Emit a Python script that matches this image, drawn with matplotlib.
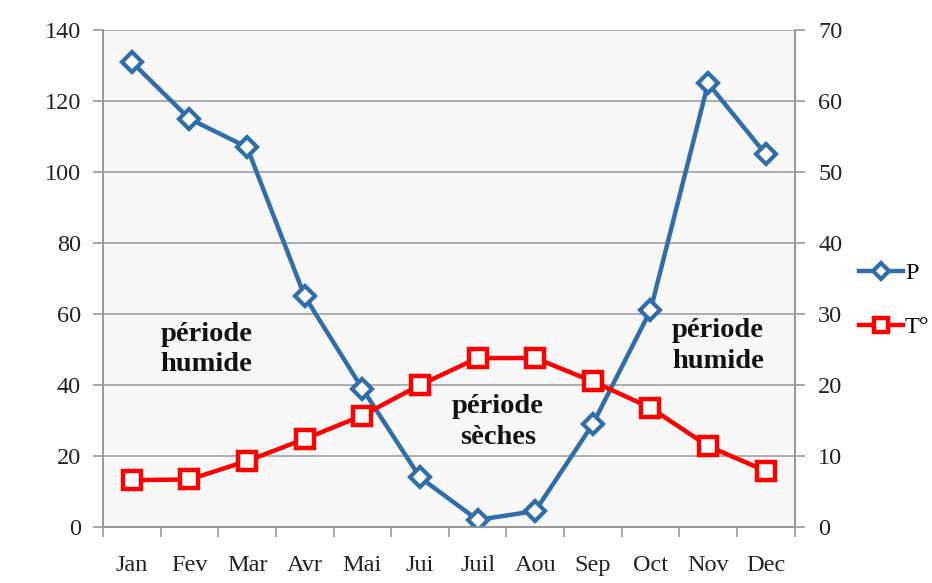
import numpy as np
import matplotlib.pyplot as plt
from matplotlib.ticker import FixedLocator

months = ["Jan", "Fev", "Mar", "Avr", "Mai", "Jui", "Juil", "Aou", "Sep", "Oct", "Nov", "Dec"]
precip = [131, 115, 107, 65, 39, 14, 2, 4.5, 29, 61, 125, 105]
temp = [6.6, 6.7, 9.3, 12.4, 15.7, 20, 23.8, 23.8, 20.5, 16.8, 11.4, 7.9]

plt.rcParams["font.family"] = ["Liberation Serif", "DejaVu Serif"]

fig = plt.figure(figsize=(9.32, 5.83), dpi=100)
fig.patch.set_facecolor("white")
ax = fig.add_axes([0.1105, 0.096, 0.742, 0.8525])
ax2 = ax.twinx()

x = np.arange(len(months))
blue = "#2f6eaa"
red = "#ff0000"

ax.set_facecolor("#f8f8f8")
ax.plot(x, precip, color=blue, lw=3.2, marker="D", ms=10, mfc="white",
        mec=blue, mew=3, label="P", zorder=3)
ax2.plot(x, temp, color=red, lw=3.2, marker="s", ms=13, mfc="white",
         mec=red, mew=3.2, label="T°", zorder=3)

ax.set_xlim(-0.5, 11.5)
ax.set_ylim(0, 140)
ax2.set_ylim(0, 70)
ax.set_yticks(range(0, 141, 20))
ax2.set_yticks(range(0, 71, 10))
ax.set_xticks(x)
ax.set_xticklabels(months)
ax.xaxis.set_minor_locator(FixedLocator(np.arange(-0.5, 12, 1)))
ax.tick_params(axis="x", which="major", length=0, pad=20, labelsize=17.5, labelcolor="#222222")
ax.tick_params(axis="x", which="minor", length=7, width=1.2, color="#999999", direction="out")
ax.tick_params(axis="y", length=7, width=1.2, color="#999999", labelsize=17.5,
               labelcolor="#222222", pad=9)
ax2.tick_params(axis="y", length=7, width=1.2, color="#999999", labelsize=17.5,
                labelcolor="#222222", pad=10)

ax.grid(axis="y", color="#a0a0a0", lw=1.2)
ax.set_axisbelow(True)
for a in (ax, ax2):
    a.spines["top"].set_visible(False)
    for s in ["left", "right", "bottom"]:
        a.spines[s].set_color("#999999")
        a.spines[s].set_linewidth(1.2)

txt = dict(fontsize=20.5, fontweight="bold", ha="center", va="center",
           color="#111111", linespacing=1.3)
ax.text(1.3, 50, "période\nhumide", **txt)
ax.text(6.35, 29.5, "période\nsèches", **txt)
ax.text(10.17, 51, "période\nhumide", **txt)

h1, l1 = ax.get_legend_handles_labels()
h2, l2 = ax2.get_legend_handles_labels()
fig.legend(h1 + h2, l1 + l2, loc="center left", bbox_to_anchor=(0.911, 0.485),
           frameon=False, fontsize=17.5, handlelength=1.8, handletextpad=0.1,
           labelspacing=1.3, borderaxespad=0, markerscale=0.8)

fig.savefig("out.png", dpi=100)
